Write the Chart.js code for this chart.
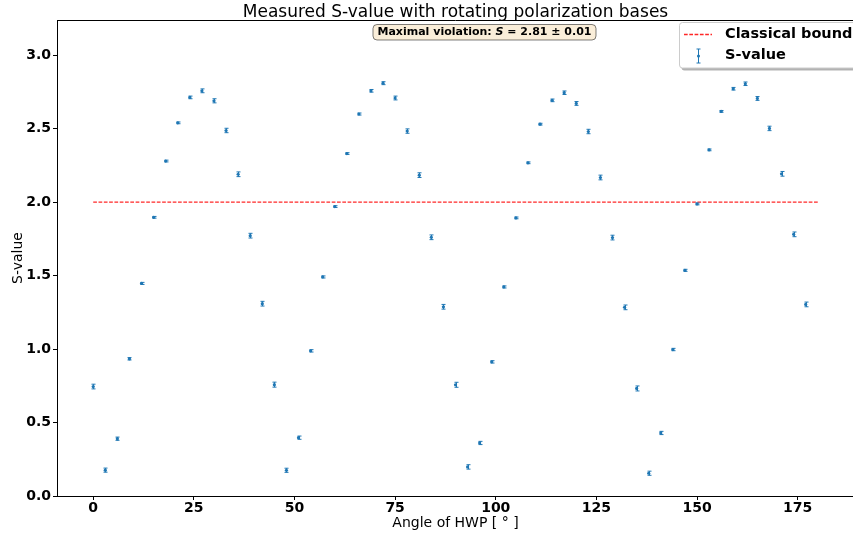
<!DOCTYPE html>
<html>
<head>
<meta charset="utf-8">
<script src="https://cdn.jsdelivr.net/npm/chart.js@4.4.1/dist/chart.umd.min.js"></script>
<style>
html, body { margin: 0; padding: 0; background: #fff; overflow: hidden; }
#wrap { position: relative; width: 858px; height: 538px; }
</style>
</head>
<body>
<div id="wrap"><canvas id="c"></canvas></div>
<script>
// Half-wave-plate angle in degrees
const angles = [
  0, 3, 6, 9, 12, 15, 18, 21, 24, 27, 30, 33, 36, 39, 42,
  45, 48, 51, 54, 57, 60, 63, 66, 69, 72, 75, 78, 81, 84, 87,
  90, 93, 96, 99, 102, 105, 108, 111, 114, 117, 120, 123, 126, 129, 132,
  135, 138, 141, 144, 147, 150, 153, 156, 159, 162, 165, 168, 171, 174, 177
];
// Measured CHSH S-value at each angle
const sValues = [
  0.745, 0.176, 0.390, 0.934, 1.447, 1.897, 2.280, 2.540, 2.713, 2.758, 2.690, 2.488, 2.190, 1.772, 1.309,
  0.758, 0.175, 0.397, 0.988, 1.491, 1.970, 2.331, 2.600, 2.758, 2.810, 2.709, 2.484, 2.184, 1.761, 1.288,
  0.757, 0.198, 0.361, 0.913, 1.423, 1.893, 2.268, 2.531, 2.693, 2.745, 2.672, 2.481, 2.168, 1.759, 1.284,
  0.732, 0.155, 0.429, 0.997, 1.536, 1.988, 2.356, 2.618, 2.772, 2.806, 2.706, 2.502, 2.193, 1.781, 1.304
];
// One-sigma uncertainty of each S-value
const sErrors = [
  0.016, 0.014, 0.011, 0.008, 0.007, 0.006, 0.006, 0.006, 0.009, 0.013, 0.014, 0.015, 0.016, 0.016, 0.016,
  0.017, 0.014, 0.011, 0.008, 0.007, 0.006, 0.006, 0.007, 0.009, 0.010, 0.013, 0.015, 0.016, 0.016, 0.016,
  0.017, 0.015, 0.011, 0.008, 0.007, 0.006, 0.006, 0.006, 0.009, 0.012, 0.013, 0.015, 0.016, 0.016, 0.016,
  0.017, 0.014, 0.011, 0.008, 0.007, 0.006, 0.006, 0.006, 0.009, 0.012, 0.013, 0.015, 0.016, 0.016, 0.016
];
// Local-realism limit and the angle span it is drawn over
const classicalBound = 2.0;
const boundSpan = [0, 180];
// Axis tick values
const xTicks = [0, 25, 50, 75, 100, 125, 150, 175];
const yTicks = [0, 0.5, 1.0, 1.5, 2.0, 2.5, 3.0];

const BLUE = '#1f77b4';
const FONT = "'DejaVu Sans', sans-serif";
const TITLE = 'Measured S-value with rotating polarization bases';

Chart.defaults.font.family = FONT;
Chart.defaults.color = '#000';

// Strongest violation, taken from the measurements
const iMax = sValues.indexOf(Math.max(...sValues));
const maxS = sValues[iMax];
const maxErr = sErrors[iMax];

const boundPoints = boundSpan.map(a => ({ x: a, y: classicalBound }));
const sPoints = angles.map((a, i) => ({ x: a, y: sValues[i] }));

// Vertical error bars with caps, plus top/right frame lines
const errorBars = {
  id: 'errorBars',
  afterDatasetsDraw(chart) {
    const { ctx, scales: { x, y }, chartArea } = chart;
    ctx.save();
    ctx.strokeStyle = BLUE;
    ctx.lineWidth = 1;
    angles.forEach((a, i) => {
      const px = Math.round(x.getPixelForValue(a)) + 0.5;
      const top = y.getPixelForValue(sValues[i] + sErrors[i]);
      const bot = y.getPixelForValue(sValues[i] - sErrors[i]);
      ctx.beginPath();
      ctx.moveTo(px, top); ctx.lineTo(px, bot);
      ctx.moveTo(px - 2, top); ctx.lineTo(px + 2, top);
      ctx.moveTo(px - 2, bot); ctx.lineTo(px + 2, bot);
      ctx.stroke();
    });
    // frame
    ctx.strokeStyle = '#000';
    ctx.lineWidth = 1;
    ctx.beginPath();
    ctx.moveTo(chartArea.left, Math.round(chartArea.top) + 0.5);
    ctx.lineTo(chartArea.right, Math.round(chartArea.top) + 0.5);
    ctx.moveTo(Math.round(chartArea.right) + 0.5, chartArea.top);
    ctx.lineTo(Math.round(chartArea.right) + 0.5, chartArea.bottom);
    ctx.stroke();
    ctx.restore();
  }
};

// Title, annotation box and legend
const overlays = {
  id: 'overlays',
  afterDraw(chart) {
    const { ctx, chartArea } = chart;
    ctx.save();

    // --- title, centred over the plotting area ---
    ctx.fillStyle = '#000';
    ctx.font = '17px ' + FONT;
    ctx.textAlign = 'center';
    ctx.textBaseline = 'alphabetic';
    ctx.fillText(TITLE, (chartArea.left + chartArea.right) / 2, 16.5);

    // --- annotation box ---
    const partA = 'Maximal violation: ';
    const partB = 'S';
    const partC = ' = ' + maxS.toFixed(2) + ' \u00b1 ' + maxErr.toFixed(2);
    const boldF = 'bold 11px ' + FONT;
    const italF = 'italic bold 11px ' + FONT;
    ctx.font = boldF;
    const wA = ctx.measureText(partA).width;
    const wC = ctx.measureText(partC).width;
    ctx.font = italF;
    const wB = ctx.measureText(partB).width;
    const total = wA + wB + wC;
    const cx = 484.5, cy = 32.5;
    const bx = cx - total / 2 - 4.5, bw = total + 9, by = 24.5, bh = 15.5;
    ctx.beginPath();
    ctx.roundRect(bx, by, bw, bh, 4);
    ctx.fillStyle = 'rgba(245,222,179,0.5)';
    ctx.fill();
    ctx.strokeStyle = 'rgba(0,0,0,0.5)';
    ctx.lineWidth = 1;
    ctx.stroke();
    ctx.fillStyle = '#000';
    ctx.textBaseline = 'middle';
    ctx.textAlign = 'left';
    let tx = cx - total / 2;
    ctx.font = boldF; ctx.fillText(partA, tx, cy); tx += wA;
    ctx.font = italF; ctx.fillText(partB, tx, cy); tx += wB;
    ctx.font = boldF; ctx.fillText(partC, tx, cy);

    // --- legend ---
    const lx = 679.5, ly = 22.5, lw = 200, lh = 45.5;
    ctx.fillStyle = 'rgba(0,0,0,0.3)';
    ctx.beginPath();
    ctx.roundRect(lx + 2, ly + 2.5, lw, lh, 3);
    ctx.fill();
    ctx.fillStyle = '#fff';
    ctx.beginPath();
    ctx.roundRect(lx, ly, lw, lh, 3);
    ctx.fill();
    ctx.strokeStyle = '#cccccc';
    ctx.stroke();

    // dashed handle
    ctx.strokeStyle = 'rgba(255,0,0,0.85)';
    ctx.lineWidth = 1.3;
    ctx.setLineDash([3.7, 1.6]);
    ctx.beginPath();
    ctx.moveTo(684, 34.5); ctx.lineTo(712, 34.5);
    ctx.stroke();
    ctx.setLineDash([]);

    // error-bar handle
    ctx.strokeStyle = BLUE;
    ctx.lineWidth = 1;
    ctx.beginPath();
    ctx.moveTo(698.5, 49); ctx.lineTo(698.5, 63);
    ctx.moveTo(696.5, 49); ctx.lineTo(700.5, 49);
    ctx.moveTo(696.5, 63); ctx.lineTo(700.5, 63);
    ctx.stroke();
    ctx.fillStyle = BLUE;
    ctx.beginPath(); ctx.arc(698.5, 56, 1.5, 0, Math.PI * 2); ctx.fill();

    ctx.fillStyle = '#000';
    ctx.font = 'bold 14.5px ' + FONT;
    ctx.textBaseline = 'middle';
    ctx.fillText('Classical bound', 725, 34.5);
    ctx.fillText('S-value', 725, 55);
    ctx.restore();
  }
};

new Chart(document.getElementById('c'), {
  type: 'scatter',
  data: {
    datasets: [
      {
        label: 'Classical bound',
        type: 'line',
        data: boundPoints,
        borderColor: 'rgba(255,0,0,0.85)',
        borderWidth: 1.3,
        borderDash: [3.7, 1.6],
        pointRadius: 0,
        fill: false
      },
      {
        label: 'S-value',
        data: sPoints,
        pointRadius: 1.6,
        pointBackgroundColor: BLUE,
        pointBorderWidth: 0,
        borderColor: BLUE
      }
    ]
  },
  options: {
    responsive: true,
    maintainAspectRatio: false,
    animation: false,
    layout: { padding: { left: 0, right: 3, top: 20, bottom: 0 } },
    plugins: {
      legend: { display: false },
      tooltip: { enabled: false },
      title: { display: false }
    },
    scales: {
      x: {
        type: 'linear',
        min: -9,
        max: 189,
        afterBuildTicks: s => { s.ticks = xTicks.map(v => ({ value: v })); },
        afterFit: s => { s.height = 42; },
        ticks: { font: { size: 14, weight: 'bold' }, color: '#000', padding: 0, maxRotation: 0 },
        grid: { drawOnChartArea: false, drawTicks: true, tickLength: 4, tickColor: '#000' },
        border: { display: true, color: '#000', width: 1 },
        title: { display: true, text: 'Angle of HWP [ \u00b0 ]', font: { size: 14, weight: 'normal' }, color: '#000', padding: { top: 0, bottom: 6 } }
      },
      y: {
        type: 'linear',
        min: 0,
        max: 3.24,
        afterBuildTicks: s => { s.ticks = yTicks.map(v => ({ value: v })); },
        afterFit: s => { s.width = 57; },
        ticks: { font: { size: 14, weight: 'bold' }, color: '#000', padding: 2, callback: v => v.toFixed(1) },
        grid: { drawOnChartArea: false, drawTicks: true, tickLength: 4, tickColor: '#000' },
        border: { display: true, color: '#000', width: 1 },
        title: { display: true, text: 'S-value', font: { size: 14, weight: 'normal' }, color: '#000', padding: { top: 10, bottom: 0 } }
      }
    }
  },
  plugins: [errorBars, overlays]
});
</script>
</body>
</html>
